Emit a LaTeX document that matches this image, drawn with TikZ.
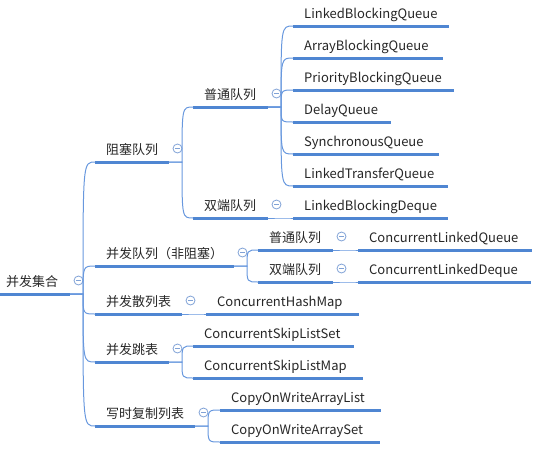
\documentclass[tikz,border=0pt]{standalone}
\usepackage{fontspec}
\setmainfont{Noto Sans CJK SC}
\definecolor{barc}{RGB}{79,134,210}
\definecolor{linkc}{RGB}{104,152,222}
\definecolor{foldc}{RGB}{128,162,214}
\tikzset{
  bar/.style={draw=barc,line width=3pt},
  link/.style={draw=linkc,line width=1pt},
  lbl/.style={anchor=base west,inner sep=0pt,text=black!85},
  fold/.style={circle,draw=foldc,line width=0.8pt,inner sep=0pt,minimum size=9pt,
    path picture={\draw[foldc,line width=0.8pt] ([xshift=-2.6pt]path picture bounding box.center)--([xshift=2.6pt]path picture bounding box.center);}}
}
\begin{document}
\begin{tikzpicture}[x=1pt,y=-1pt,font=\fontsize{13}{15}\selectfont]
\useasboundingbox (0,0) rectangle (544,448);
\foreach \nm/\xs/\xe/\y/\txt in {root/-5/70/294/并发集合,
  block/95/169/162/阻塞队列,nonblock/95/234/266/并发队列（非阻塞）,hash/95/182/314/并发散列表,
  skip/95/169/362/并发跳表,cow/95/195/426/写时复制列表,
  normal/193/268/107/普通队列,deque/193/268/218/双端队列,
  lbq/293/449/26/LinkedBlockingQueue,abq/293/443/58/ArrayBlockingQueue,
  pbq/293/454/90/PriorityBlockingQueue,dq/293/391/122/DelayQueue,
  sq/293/439/154/SynchronousQueue,ltq/293/448/186/LinkedTransferQueue,
  lbd/293/448/218/LinkedBlockingDeque,
  clnormal/258/333/250/普通队列,cldeque/258/333/282/双端队列,
  clq/358/532/250/ConcurrentLinkedQueue,cld/358/531/282/ConcurrentLinkedDeque,
  chm/206/359/314/ConcurrentHashMap,
  slset/193/354/346/ConcurrentSkipListSet,slmap/193/363/378/ConcurrentSkipListMap,
  cowlist/220/381/410/CopyOnWriteArrayList,cowset/220/380/442/CopyOnWriteArraySet}
{
  \coordinate (\nm-s) at (\xs,\y);
  \coordinate (\nm-e) at (\xe,\y);
  \draw[bar] (\nm-s)--(\nm-e);
  \node[lbl] (\nm) at ([xshift=11pt,yshift=8pt]\nm-s) {\txt};
}
% collapse markers and trunk points
\foreach \p in {root,block,nonblock,hash,skip,cow,normal,deque,clnormal,cldeque}
{
  \coordinate (\p-t) at ([xshift=13pt]\p-e);
  \node[fold] (\p-fold) at ([xshift=8.5pt,yshift=13.5pt]\p-e) {};
}
\foreach \p/\c in {root/block,root/nonblock,root/hash,root/skip,root/cow,
  block/normal,block/deque,normal/lbq,normal/abq,normal/pbq,normal/dq,normal/sq,normal/ltq,
  deque/lbd,nonblock/clnormal,nonblock/cldeque,clnormal/clq,cldeque/cld,
  hash/chm,skip/slset,skip/slmap,cow/cowlist,cow/cowset}
  \draw[link] (\p-e)--(\p-t) .. controls (\p-t |- \c-s) .. (\c-s);
\end{tikzpicture}
\end{document}
